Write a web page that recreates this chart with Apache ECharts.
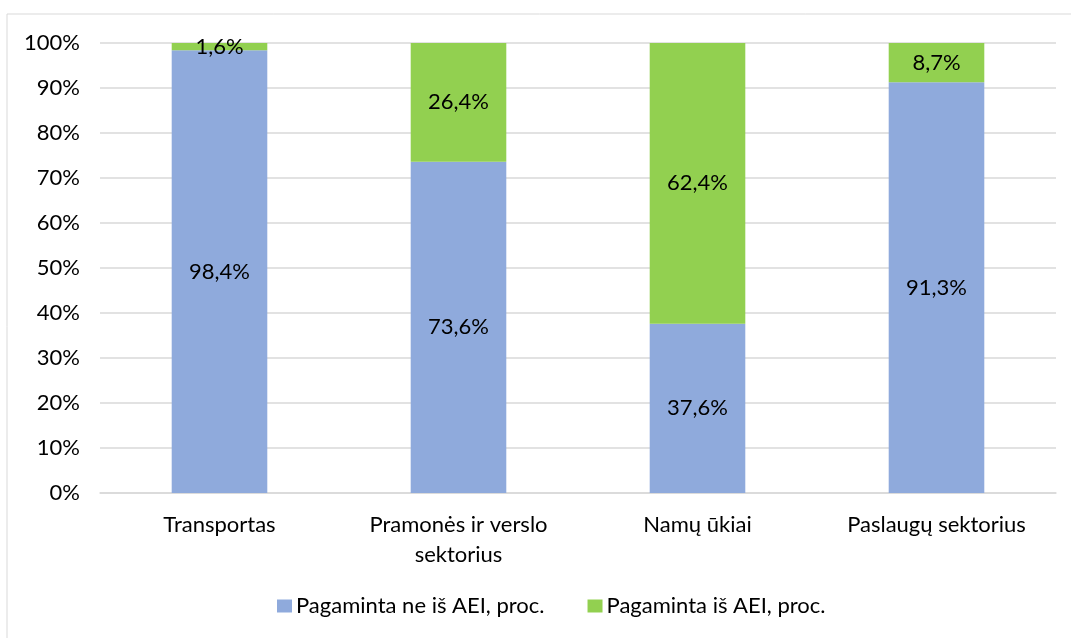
<!DOCTYPE html>
<html>
<head>
<meta charset="utf-8">
<script src="https://cdn.jsdelivr.net/npm/echarts@6/dist/echarts.min.js"></script>
<style>
  html, body { margin: 0; padding: 0; background: #fff; }
  #chart { width: 1071px; height: 638px; }
</style>
</head>
<body>
<div id="chart"></div>
<script>
// sektoriai ir dalys (proc.)
const categories = ["Transportas", "Pramonės ir verslo\nsektorius", "Namų ūkiai", "Paslaugų sektorius"];
const neAei = [98.4, 73.6, 37.6, 91.3];
const aei = [1.6, 26.4, 62.4, 8.7];
const seriesNames = ["Pagaminta ne iš AEI, proc.", "Pagaminta iš AEI, proc."];

const fmt = (v) => v.toFixed(1).replace(".", ",") + "%";
const font = "Lato, 'Open Sans', sans-serif";
const fs = 22;

var chart = echarts.init(document.getElementById("chart"));
var option = {
  animation: false,
  textStyle: { fontFamily: font, color: "#000" },
  graphic: [
    {
      type: "rect",
      shape: { x: 7, y: 14, width: 1080, height: 640 },
      style: { fill: "none", stroke: "#d9d9d9", lineWidth: 1 },
      silent: true,
    },
  ],
  grid: { left: 100, right: 15, top: 43, bottom: 145 },
  legend: {
    bottom: 16,
    left: 272,
    itemWidth: 15,
    itemHeight: 13,
    itemGap: 43,
    icon: "rect",
    textStyle: { fontSize: fs, fontFamily: font, color: "#000", padding: [0, 0, 0, -1] },
    data: seriesNames,
  },
  xAxis: {
    type: "category",
    data: categories,
    axisLine: { lineStyle: { color: "#d9d9d9", width: 1.5 } },
    axisTick: { show: false },
    axisLabel: { fontSize: fs, color: "#000", margin: 17, lineHeight: 30, fontFamily: font },
  },
  yAxis: {
    type: "value",
    min: 0,
    max: 100,
    interval: 10,
    axisLabel: { formatter: "{value}%", fontSize: fs, color: "#000", margin: 20, fontFamily: font },
    splitLine: { lineStyle: { color: "#d9d9d9", width: 1.5 } },
    axisLine: { show: false },
    axisTick: { show: false },
  },
  series: [
    {
      name: seriesNames[0],
      type: "bar",
      stack: "total",
      barWidth: "40%",
      itemStyle: { color: "#8faadc" },
      label: { show: true, position: "inside", fontSize: fs, color: "#000", formatter: (p) => fmt(p.value), fontFamily: font },
      data: neAei,
    },
    {
      name: seriesNames[1],
      type: "bar",
      stack: "total",
      barWidth: "40%",
      itemStyle: { color: "#92d050" },
      label: { show: true, position: "inside", fontSize: fs, color: "#000", formatter: (p) => fmt(p.value), fontFamily: font },
      data: aei,
    },
  ],
};
chart.setOption(option);
</script>
</body>
</html>
